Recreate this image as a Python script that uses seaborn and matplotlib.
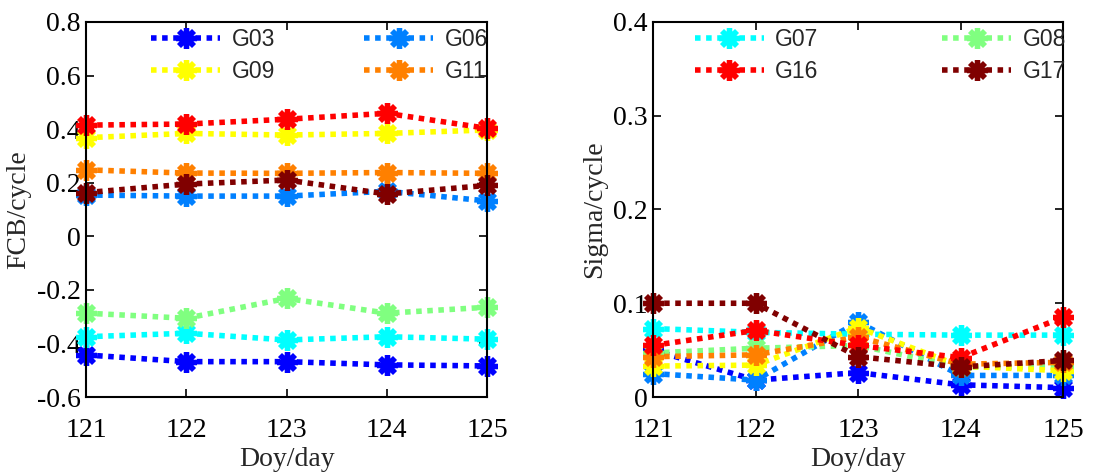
import matplotlib
matplotlib.use("Agg")
import matplotlib.pyplot as plt
import seaborn as sns
import pandas as pd

days = [121, 122, 123, 124, 125]
sats = ["G03", "G06", "G07", "G08", "G09", "G11", "G16", "G17"]
colors = ["#0000FF", "#0080FF", "#00FFFF", "#80FF80", "#FFFF00", "#FF8000", "#FF0000", "#800000"]

fcb_G03 = [-0.443, -0.468, -0.468, -0.480, -0.484]
fcb_G06 = [0.154, 0.150, 0.150, 0.168, 0.132]
fcb_G07 = [-0.375, -0.362, -0.387, -0.375, -0.384]
fcb_G08 = [-0.287, -0.306, -0.232, -0.287, -0.265]
fcb_G09 = [0.368, 0.384, 0.378, 0.384, 0.397]
fcb_G11 = [0.248, 0.236, 0.235, 0.238, 0.235]
fcb_G16 = [0.415, 0.419, 0.437, 0.459, 0.403]
fcb_G17 = [0.163, 0.195, 0.210, 0.158, 0.190]

sig_G03 = [0.050, 0.018, 0.026, 0.013, 0.010]
sig_G06 = [0.025, 0.018, 0.080, 0.023, 0.023]
sig_G07 = [0.073, 0.069, 0.067, 0.066, 0.066]
sig_G08 = [0.047, 0.052, 0.055, 0.032, 0.032]
sig_G09 = [0.033, 0.034, 0.074, 0.033, 0.028]
sig_G11 = [0.043, 0.045, 0.064, 0.035, 0.037]
sig_G16 = [0.055, 0.071, 0.055, 0.042, 0.085]
sig_G17 = [0.100, 0.100, 0.043, 0.032, 0.039]

fcb = dict(G03=fcb_G03, G06=fcb_G06, G07=fcb_G07, G08=fcb_G08,
           G09=fcb_G09, G11=fcb_G11, G16=fcb_G16, G17=fcb_G17)
sig = dict(G03=sig_G03, G06=sig_G06, G07=sig_G07, G08=sig_G08,
           G09=sig_G09, G11=sig_G11, G16=sig_G16, G17=sig_G17)

left_ticks = [-0.6, -0.4, -0.2, 0, 0.2, 0.4, 0.6, 0.8]
left_ticklabels = ["-0.6", "-0.4", "-0.2", "0", "0.2", "0.4", "0.6", "0.8"]
right_ticks = [0, 0.1, 0.2, 0.3, 0.4]
right_ticklabels = ["0", "0.1", "0.2", "0.3", "0.4"]

sns.set_theme(style="white")
plt.rcParams["axes.unicode_minus"] = False
serif = ["Liberation Serif", "DejaVu Serif"]
sans = ["Liberation Sans", "DejaVu Sans"]

fig = plt.figure(figsize=(11.1, 4.75), dpi=100)
ax1 = fig.add_axes([0.0775, 0.1642, 0.3613, 0.7895])
ax2 = fig.add_axes([0.5883, 0.1642, 0.3694, 0.7895])

def draw(ax, data):
    for s, c in zip(sats, colors):
        df = pd.DataFrame({"day": days, "val": data[s]})
        sns.lineplot(data=df, x="day", y="val", ax=ax, color=c, label=s,
                     linestyle=(0, (1, 1)), linewidth=4, marker=(8, 2, 0),
                     markersize=15, markeredgewidth=3.8, markeredgecolor=c,
                     clip_on=False, legend=False)

draw(ax1, fcb)
draw(ax2, sig)

for ax, ticks, tl, lim, lab in [(ax1, left_ticks, left_ticklabels, (-0.6, 0.8), "FCB/cycle"),
                                (ax2, right_ticks, right_ticklabels, (0, 0.4), "Sigma/cycle")]:
    ax.set_xlim(121, 125)
    ax.set_ylim(*lim)
    ax.set_xticks(days)
    ax.set_xticklabels([str(d) for d in days], fontfamily=serif, fontsize=20)
    ax.set_yticks(ticks)
    ax.set_yticklabels(tl, fontfamily=serif, fontsize=20)
    ax.set_xlabel("Doy/day", fontfamily=serif, fontsize=20, labelpad=3)
    ax.set_ylabel(lab, fontfamily=serif, fontsize=20, labelpad=4)
    ax.tick_params(direction="in", length=6, width=1.2, top=True, right=True,
                   bottom=True, left=True, colors="black")
    ax.tick_params(axis="x", pad=15)
    ax.tick_params(axis="y", pad=4)
    for sp in ax.spines.values():
        sp.set_color("black")
        sp.set_linewidth(1.5)
        sp.set_visible(True)

h1, l1 = ax1.get_legend_handles_labels()
hd = dict(zip(l1, h1))
h2, l2 = ax2.get_legend_handles_labels()
hd2 = dict(zip(l2, h2))

leg1 = ax1.legend([hd["G03"], hd["G09"], hd["G06"], hd["G11"]],
                  ["G03", "G09", "G06", "G11"], ncol=2, loc="upper left",
                  bbox_to_anchor=(0.14, 1.008), frameon=False,
                  prop={"family": sans, "size": 16.5}, handlelength=3.0,
                  handletextpad=0.5, columnspacing=3.9, labelspacing=0.4,
                  borderaxespad=0)
leg2 = ax2.legend([hd2["G07"], hd2["G16"], hd2["G08"], hd2["G17"]],
                  ["G07", "G16", "G08", "G17"], ncol=2, loc="upper left",
                  bbox_to_anchor=(0.08, 1.008), frameon=False,
                  prop={"family": sans, "size": 16.5}, handlelength=3.0,
                  handletextpad=0.5, columnspacing=5.4, labelspacing=0.4,
                  borderaxespad=0)

fig.savefig("out.png", dpi=100)
